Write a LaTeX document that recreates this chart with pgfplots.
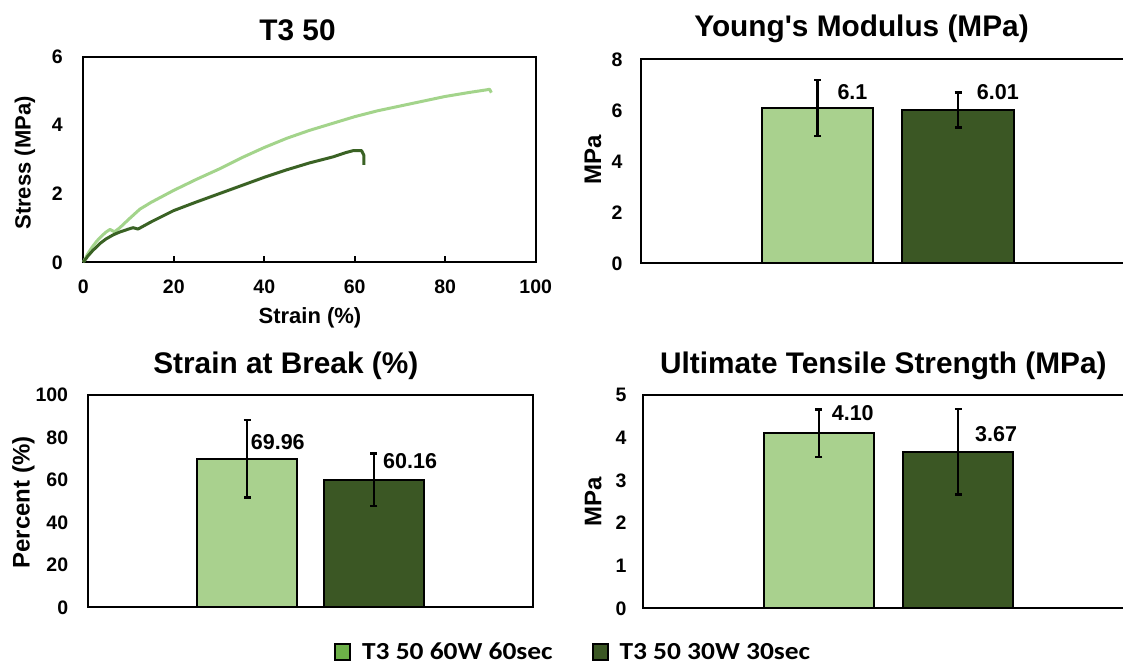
\documentclass[border=0pt]{standalone}
\usepackage{fontspec}
\setmainfont{Liberation Sans}
\newfontfamily\plainfont{Liberation Sans}
\newfontfamily\legfont[FakeStretch=1.12]{Carlito}
\usepackage{pgfplots}
\pgfplotsset{compat=1.18}

\definecolor{lightg}{HTML}{A9D18E}
\definecolor{darkg}{HTML}{3B5724}
\definecolor{lightc}{HTML}{A3D48B}
\definecolor{darkc}{HTML}{3A6224}
\definecolor{legA}{HTML}{6DB049}
\definecolor{legB}{HTML}{3B5724}

\newcommand\tickfont{\fontsize{19.5}{20}\selectfont\bfseries}
\newcommand\valfont{\fontsize{21.5}{22}\selectfont\bfseries}
\newcommand\titlefont{\fontsize{29.8}{30}\selectfont\bfseries}
\newcommand\labfontA{\fontsize{22}{22}\selectfont\bfseries}
\newcommand\labfontB{\fontsize{24}{24}\selectfont\bfseries}

\pgfplotsset{
  base/.style={
    scale only axis, anchor=south west,
    axis line style={black, line width=2.2pt},
    /pgf/number format/assume math mode=true,
    tick label style={font=\tickfont, inner sep=0pt},
    clip=false,
  },
  barax/.style={
    base, xmin=-1, xmax=1, xtick=\empty, ymin=0,
    ytick style={draw=none}, major tick length=0pt,
  },
  errs/.style={
    error bars/.cd, y dir=both, y explicit,
    error bar style={line width=2.3pt, black},
    error mark options={rotate=90, mark size=3.5pt, line width=2.3pt, black},
    /pgfplots/.cd,
  },
}

\begin{document}
\begin{tikzpicture}
\path[use as bounding box] (0pt,0pt) rectangle (1123pt,664pt);
\clip (0pt,0pt) rectangle (1123pt,664pt);

% ---------- Stress-strain ----------
\begin{axis}[base, at={(83.3pt,401.7pt)}, width=452.4pt, height=205.6pt,
  xmin=0, xmax=100, ymin=0, ymax=6,
  xtick={0,20,40,60,80,100}, ytick={0,2,4,6},
  tick align=inside, xtick pos=bottom, ytick pos=left,
  ytick style={draw=none}, xtick style={black, line width=1.6pt},
  major tick length=6.5pt,
  xticklabel style={anchor=north, yshift=-17.7pt},
  yticklabel style={anchor=east, xshift=-20.3pt}]
\addplot[lightc, line width=3pt, line join=round] coordinates {
(0,0) (1,0.25) (2,0.45) (3,0.62) (4,0.76) (5,0.88) (5.9,0.96) (6.9,0.89)
(8,1.0) (10,1.25) (12.5,1.55) (15,1.75) (20,2.1) (25,2.42) (30,2.72)
(35,3.05) (40,3.35) (45,3.62) (50,3.85) (55,4.05) (60,4.25) (65,4.42)
(70,4.56) (75,4.7) (80,4.84) (85,4.95) (89,5.03) (89.8,5.05) (90.2,4.95)};
\addplot[darkc, line width=3pt, line join=round] coordinates {
(0,0) (1,0.18) (2,0.33) (3.7,0.55) (5,0.68) (6.6,0.8) (8,0.88) (10,0.97)
(11,1.01) (12.1,0.97) (13.2,1.05) (15,1.18) (20,1.51) (25,1.76) (30,2.0)
(35,2.24) (40,2.48) (45,2.7) (50,2.9) (55.3,3.08) (58,3.2) (59.7,3.26)
(61.5,3.26) (62,3.13) (62,2.84)};
\end{axis}

% ---------- Young's modulus ----------
\begin{axis}[barax, at={(641.3pt,400.7pt)}, width=493pt, height=204pt,
  ymax=8, ytick={0,2,4,6,8},
  yticklabel style={anchor=east, xshift=-18.6pt}]
\addplot[ybar, bar width=111.5pt, bar shift=0pt, fill=lightg, draw=black,
  line width=2pt, errs] coordinates {(-0.2852,6.1) +- (0,1.1)};
\addplot[ybar, bar width=111.5pt, bar shift=0pt, fill=darkg, draw=black,
  line width=2pt, errs] coordinates {(0.2852,6.01) +- (0,0.69)};
\node[anchor=base west, inner sep=0pt, font=\valfont] at (axis cs:0,6.43) [xshift=-50.5pt] {6.1};
\node[anchor=base west, inner sep=0pt, font=\valfont] at (axis cs:0,6.43) [xshift=88.9pt] {6.01};
\end{axis}

% ---------- Strain at break ----------
\begin{axis}[barax, at={(87.7pt,56.7pt)}, width=445.6pt, height=212.3pt,
  ymax=100, ytick={0,20,40,60,80,100},
  yticklabel style={anchor=east, xshift=-19.4pt},
  legend columns=2,
  legend style={at={(0.5533,-0.2106)}, anchor=west, draw=none, fill=none,
    inner sep=0pt, outer sep=0pt,
    font=\legfont\fontsize{24.5}{25}\selectfont\bfseries,
    /tikz/every odd column/.append style={column sep=9pt},
    /tikz/every even column/.append style={column sep=37pt}}]
\addplot[forget plot, ybar, bar width=99.5pt, bar shift=0pt, fill=lightg, draw=black,
  line width=2pt, errs] coordinates {(-0.2841,69.96) +- (0,18.2)};
\addplot[forget plot, ybar, bar width=99.5pt, bar shift=0pt, fill=darkg, draw=black,
  line width=2pt, errs] coordinates {(0.2841,60.16) +- (0,12.3)};
\node[anchor=base west, inner sep=0pt, font=\valfont] at (axis cs:0,74.4) [xshift=-59.8pt] {69.96};
\node[anchor=base west, inner sep=0pt, font=\valfont] at (axis cs:0,65.5) [xshift=72.5pt] {60.16};
\addlegendimage{legend image code/.code={\draw[fill=legA, draw=black, line width=1.8pt] (0pt,-8pt) rectangle (15pt,8pt);}}
\addlegendentry{T3 50 60W 60sec}
\addlegendimage{legend image code/.code={\draw[fill=legB, draw=black, line width=1.8pt] (0pt,-8pt) rectangle (15pt,8pt);}}
\addlegendentry{T3 50 30W 30sec}
\end{axis}

% ---------- UTS ----------
\begin{axis}[barax, at={(643.3pt,55.7pt)}, width=490.7pt, height=213.3pt,
  ymax=5, ytick={0,1,2,3,4,5},
  yticklabel style={anchor=east, xshift=-16.6pt}]
\addplot[ybar, bar width=110pt, bar shift=0pt, fill=lightg, draw=black,
  line width=2pt, errs] coordinates {(-0.2841,4.10) +- (0,0.56)};
\addplot[ybar, bar width=110pt, bar shift=0pt, fill=darkg, draw=black,
  line width=2pt, errs] coordinates {(0.2837,3.67) +- (0,1.0)};
\node[anchor=base west, inner sep=0pt, font=\valfont] at (axis cs:0,4.40) [xshift=-57pt] {4.10};
\node[anchor=base west, inner sep=0pt, font=\valfont] at (axis cs:0,3.92) [xshift=86.3pt] {3.67};
\end{axis}

% ---------- titles and axis labels ----------
\node[anchor=base, font=\titlefont] at (297.5pt,623.3pt) {T3 50};
\node[anchor=base, font=\plainfont\titlefont] at (861.5pt,627pt) {Young's Modulus (MPa)};
\node[anchor=base, font=\titlefont] at (285.8pt,290.7pt) {Strain at Break (\%)};
\node[anchor=base, font=\titlefont] at (883.3pt,290pt) {Ultimate Tensile Strength (MPa)};
\node[font=\labfontA, rotate=90] at (25pt,501pt) {Stress (MPa)};
\node[anchor=base, font=\labfontA] at (310pt,340.7pt) {Strain (\%)};
\node[font=\labfontB, rotate=90] at (593pt,504pt) {MPa};
\node[font=\labfontB, rotate=90] at (23.3pt,161.5pt) {Percent (\%)};
\node[font=\labfontB, rotate=90] at (593.3pt,162.3pt) {MPa};
\end{tikzpicture}
\end{document}
